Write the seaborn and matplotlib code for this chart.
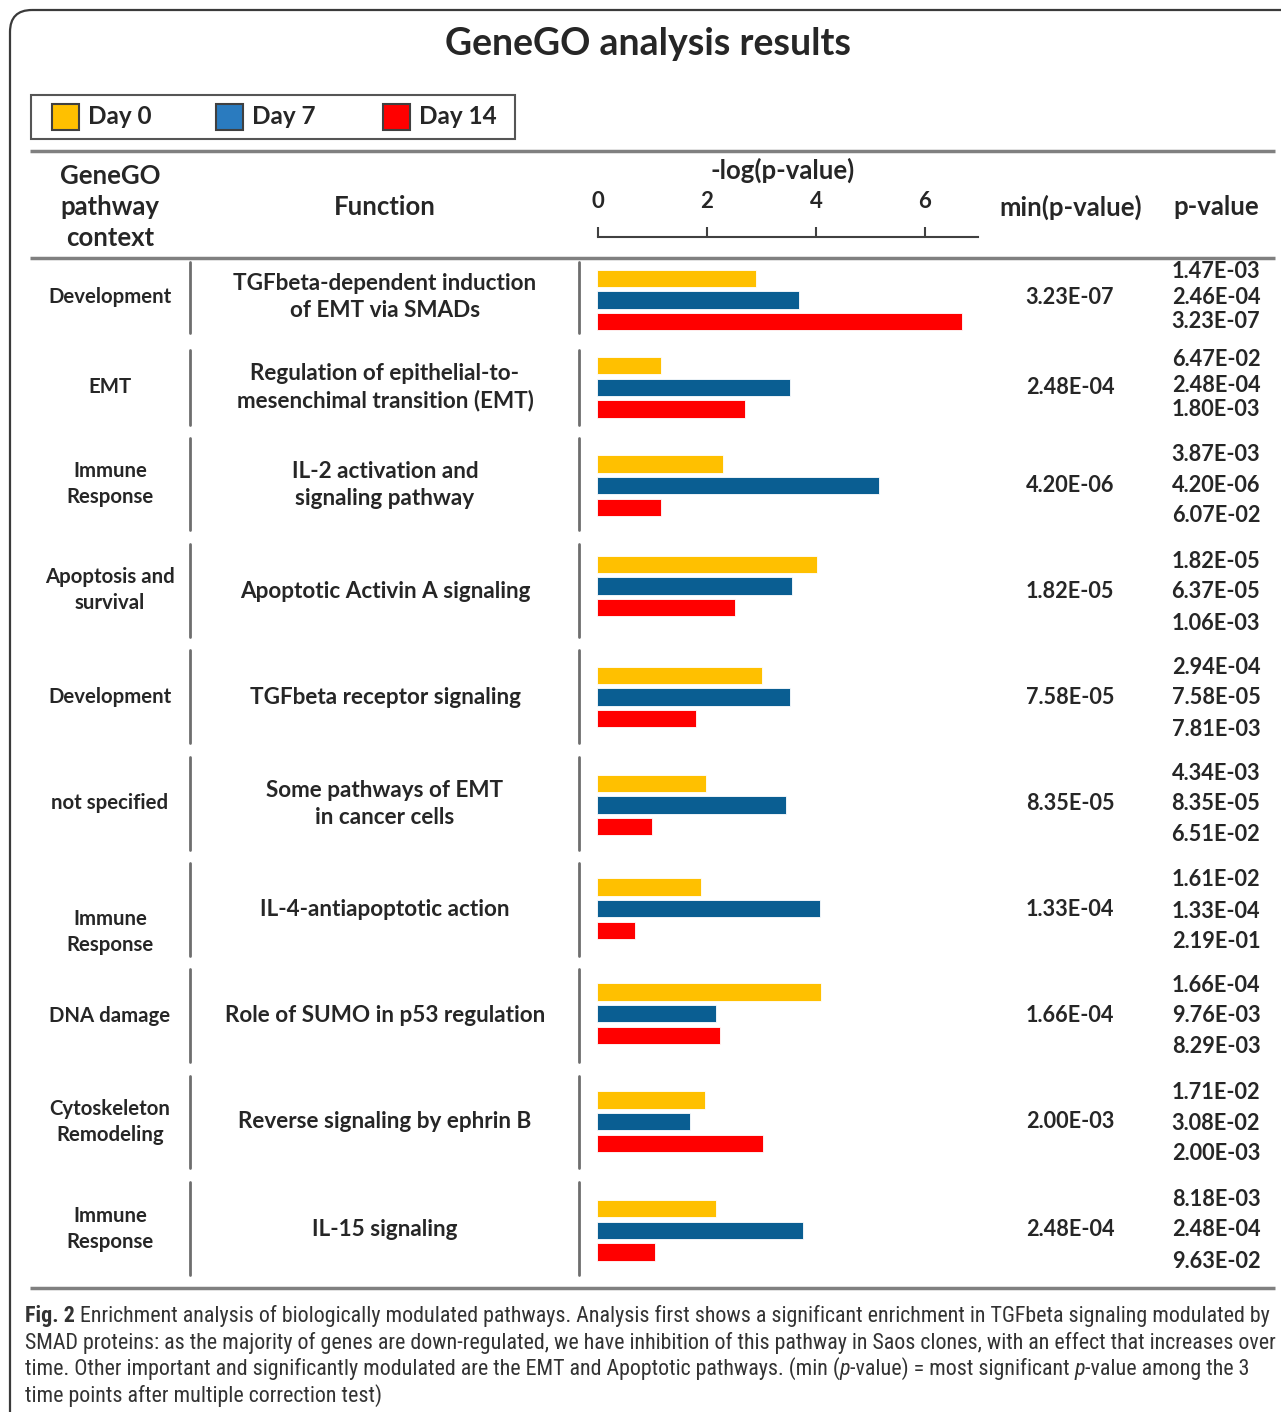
import pandas as pd
import seaborn as sns
import matplotlib.pyplot as plt
from matplotlib import font_manager
from matplotlib.patches import Rectangle, FancyBboxPatch

# table content
contexts = ['Development', 'EMT', 'Immune\nResponse', 'Apoptosis and\nsurvival', 'Development',
            'not specified', 'Immune\nResponse', 'DNA damage', 'Cytoskeleton\nRemodeling', 'Immune\nResponse']
functions = ['TGFbeta-dependent induction\nof EMT via SMADs',
             'Regulation of epithelial-to-\nmesenchimal transition (EMT)',
             'IL-2 activation and\nsignaling pathway',
             'Apoptotic Activin A signaling',
             'TGFbeta receptor signaling',
             'Some pathways of EMT\nin cancer cells',
             'IL-4-antiapoptotic action',
             'Role of SUMO in p53 regulation',
             'Reverse signaling by ephrin B',
             'IL-15 signaling']
min_p = ['3.23E-07', '2.48E-04', '4.20E-06', '1.82E-05', '7.58E-05',
         '8.35E-05', '1.33E-04', '1.66E-04', '2.00E-03', '2.48E-04']
p_day0 = ['1.47E-03', '6.47E-02', '3.87E-03', '1.82E-05', '2.94E-04',
          '4.34E-03', '1.61E-02', '1.66E-04', '1.71E-02', '8.18E-03']
p_day7 = ['2.46E-04', '2.48E-04', '4.20E-06', '6.37E-05', '7.58E-05',
          '8.35E-05', '1.33E-04', '9.76E-03', '3.08E-02', '2.48E-04']
p_day14 = ['3.23E-07', '1.80E-03', '6.07E-02', '1.06E-03', '7.81E-03',
           '6.51E-02', '2.19E-01', '8.29E-03', '2.00E-03', '9.63E-02']

# bar lengths, -log(p-value), as drawn
days = ['Day 0', 'Day 7', 'Day 14']
bar_day0 = [2.92, 1.17, 2.32, 4.03, 3.03, 2.00, 1.90, 4.11, 1.99, 2.19]
bar_day7 = [3.71, 3.55, 5.18, 3.57, 3.54, 3.46, 4.09, 2.18, 1.71, 3.78]
bar_day14 = [6.69, 2.71, 1.17, 2.53, 1.81, 1.00, 0.70, 2.25, 3.05, 1.06]
axis_ticks = [0, 2, 4, 6]

bar_colors = ['#FFC000', '#0A5E92', '#FF0000']
legend_colors = ['#FFC000', '#2A7BBF', '#FF0000']

sns.set_style('white')
installed = {f.name for f in font_manager.fontManager.ttflist}
main_font = 'Lato' if 'Lato' in installed else 'Open Sans'
narrow = [f for f in ['Liberation Sans Narrow', 'DejaVu Sans Condensed', 'Roboto Condensed'] if f in installed]
cap_font = narrow[0] if narrow else main_font
plt.rcParams['font.family'] = [main_font, 'DejaVu Sans']

W, H = 1281, 1412
fig = plt.figure(figsize=(W / 100, H / 100), dpi=100)
ax0 = fig.add_axes([0, 0, 1, 1])
ax0.set_xlim(0, W)
ax0.set_ylim(H, 0)
ax0.axis('off')


def px_axes(x, y, w, h):
    return fig.add_axes([x / W, 1 - (y + h) / H, w / W, h / H])


# frame
ax0.add_patch(FancyBboxPatch((10, 10), 1300, 1430, boxstyle='round,pad=0,rounding_size=22',
                             fill=False, ec='#3a3a3a', lw=1.6))
ax0.text(648, 44, 'GeneGO analysis results', ha='center', va='center', fontsize=27, fontweight='bold')

# legend
ax0.add_patch(Rectangle((31, 95), 484, 44, fill=False, ec='#555555', lw=1.5))
for lx, col, lab in zip([52, 216, 383], legend_colors, days):
    ax0.add_patch(Rectangle((lx, 104), 27, 26, fc=col, ec='#404040', lw=1.5))
    ax0.text(lx + 36, 117, lab, ha='left', va='center', fontsize=17.5, fontweight='bold')

# table rules
for yy in [151, 258, 1288]:
    ax0.plot([30, 1275], [yy, yy], color='#808080', lw=2.5, solid_capstyle='butt')

# header
hdr = dict(ha='center', va='center', fontsize=18.5, fontweight='bold')
ax0.text(110, 207, 'GeneGO\npathway\ncontext', linespacing=1.35, **hdr)
ax0.text(385, 207, 'Function', **hdr)
ax0.text(783, 170, '-log(p-value)', **hdr)
ax0.text(1071, 207, 'min(p-value)', **hdr)
ax0.text(1216, 207, 'p-value', **hdr)

scale = 54.5
ax_h = px_axes(598, 215, 380, 22)
ax_h.set_xlim(0, 380 / scale)
ax_h.set_xticks(axis_ticks)
ax_h.set_yticks([])
for s in ['top', 'left', 'right']:
    ax_h.spines[s].set_visible(False)
ax_h.spines['bottom'].set_color('#404040')
ax_h.spines['bottom'].set_linewidth(1.5)
ax_h.tick_params(axis='x', direction='in', length=7, width=1.5, color='#404040',
                 bottom=True, top=False, labelbottom=False, labeltop=True, labelsize=16, pad=2)
for lbl in ax_h.get_xticklabels():
    lbl.set_fontweight('bold')
ax_h.patch.set_alpha(0)

# rows
segs = [(262, 333), (350, 425), (438, 530), (544, 637), (650, 743),
        (757, 850), (863, 956), (969, 1062), (1076, 1168), (1182, 1275)]
ctx_y = [297, 387, 484, 590, 697, 803, 932, 1016, 1122, 1229]
func_y = [297, 387, 485, 591, 697, 804, 910, 1016, 1122, 1229]
bar_y = [300, 387.5, 485.5, 586, 697, 805, 908.5, 1013.7, 1121.7, 1230.3]
pv_y = [297, 385, 485, 592, 698, 804, 911, 1016, 1123, 1230]
pv_step = [25, 25, 30.5, 31, 31, 30.5, 31, 30.5, 30.5, 31]

df = pd.DataFrame({
    'row': list(range(10)) * 3,
    'day': [d for d in days for _ in range(10)],
    'value': bar_day0 + bar_day7 + bar_day14,
})

for i in range(10):
    y0, y1 = segs[i]
    for xx in [190, 579]:
        ax0.plot([xx, xx], [y0, y1], color='#6e6e6e', lw=2)
    ax0.text(110, ctx_y[i], contexts[i], ha='center', va='center', fontsize=14.7,
             fontweight='bold', linespacing=1.35)
    ax0.text(385, func_y[i], functions[i], ha='center', va='center', fontsize=16.2,
             fontweight='bold', linespacing=1.35)
    ax0.text(1070, func_y[i], min_p[i], ha='center', va='center', fontsize=15.6, fontweight='bold')
    for k, pv in enumerate([p_day0[i], p_day7[i], p_day14[i]]):
        ax0.text(1216, pv_y[i] + (k - 1) * pv_step[i], pv, ha='center', va='center',
                 fontsize=15.7, fontweight='bold')

    ax = px_axes(597, bar_y[i] - 32.5, 7 * scale, 65)
    sns.barplot(data=df[df['row'] == i], x='value', y='day', hue='day', order=days,
                hue_order=days, palette=bar_colors, saturation=1, width=0.8, legend=False,
                edgecolor='white', linewidth=0.6, ax=ax)
    ax.set_xlim(0, 7)
    ax.set_ylim(2.5, -0.5)
    ax.axis('off')


# caption, pieces chained along each line
def chain(x, y, pieces, size):
    t = ax0.text(x, y, pieces[0][0], fontsize=size, va='center', ha='left',
                 family=[cap_font, 'DejaVu Sans'], color='#333333', **pieces[0][1])
    for s, kw in pieces[1:]:
        t = ax0.annotate(s, xy=(1, 0), xycoords=t, xytext=(0, 0), textcoords='offset points',
                         va='bottom', ha='left', fontsize=size, family=[cap_font, 'DejaVu Sans'],
                         color='#333333', **kw)


n = {}
cap_size = 15.8
chain(25, 1316, [('Fig. 2', {'fontweight': 'bold'}),
                 (' Enrichment analysis of biologically modulated pathways. Analysis first shows a significant '
                  'enrichment in TGFbeta signaling modulated by', n)], cap_size)
chain(25, 1343, [('SMAD proteins: as the majority of genes are down-regulated, we have inhibition of this '
                  'pathway in Saos clones, with an effect that increases over', n)], cap_size)
chain(25, 1369, [('time. Other important and significantly modulated are the EMT and Apoptotic pathways. (min (', n),
                 ('p', {'style': 'italic'}), ('-value) = most significant ', n),
                 ('p', {'style': 'italic'}), ('-value among the 3', n)], cap_size)
chain(25, 1396, [('time points after multiple correction test)', n)], cap_size)

fig.savefig('out.png', dpi=100)
